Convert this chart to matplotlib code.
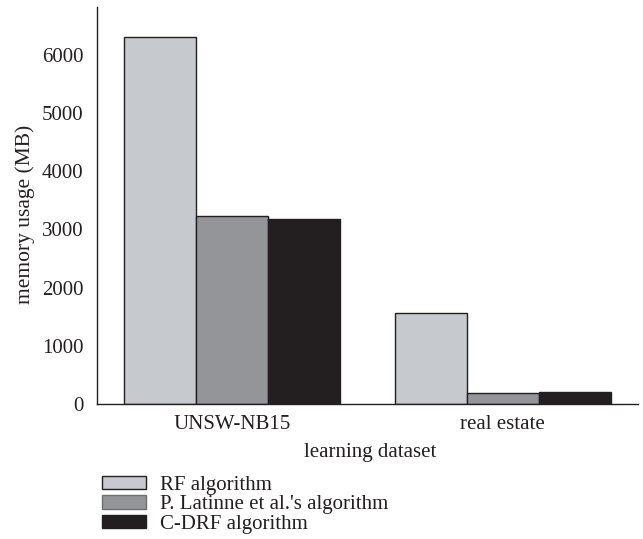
import matplotlib
matplotlib.use("Agg")
import matplotlib.pyplot as plt
import numpy as np
from matplotlib.patches import Patch

categories = ["UNSW-NB15", "real estate"]
series_names = ["RF algorithm", "P. Latinne et al.'s algorithm", "C-DRF algorithm"]
rf_values = [6310, 1570]
latinne_values = [3225, 195]
cdrf_values = [3175, 210]
y_ticks = [0, 1000, 2000, 3000, 4000, 5000, 6000]

colors = ["#c6c9cd", "#939598", "#231f20"]
edge = "#231f20"
txt = "#231f20"

plt.rcParams['font.family'] = ['Liberation Serif', 'DejaVu Serif']

fig = plt.figure(figsize=(6.43, 5.39), dpi=100)
ax = fig.add_axes([0.151, 0.2505, 0.841, 0.7365])

x = np.arange(len(categories))
w = 0.266
for i, vals in enumerate([rf_values, latinne_values, cdrf_values]):
    ax.bar(x + (i - 1) * w, vals, width=w, color=colors[i], edgecolor=edge, linewidth=1.0)

ax.set_xlim(-0.5, 1.5)
ax.set_ylim(0, 6820)
ax.set_yticks(y_ticks)
ax.set_xticks(x)
ax.set_xticklabels(categories)
ax.tick_params(axis='both', length=0, labelsize=15, colors=txt)
ax.tick_params(axis='y', pad=10)
ax.tick_params(axis='x', pad=8)
for s in ["top", "right"]:
    ax.spines[s].set_visible(False)
for s in ["left", "bottom"]:
    ax.spines[s].set_color(edge)
    ax.spines[s].set_linewidth(1.0)

ax.set_xlabel("learning dataset", fontsize=15, color=txt)
ax.xaxis.set_label_coords(0.505, -0.121)
ax.xaxis.label.set_va('center')
ax.set_ylabel("memory usage (MB)", fontsize=15.5, color=txt)
ax.yaxis.set_label_coords(-0.133, 0.478)
ax.yaxis.label.set_va('center')

handles = [Patch(facecolor=colors[i], edgecolor=edge if i != 1 else "#6d6e71", linewidth=1.0) for i in range(3)]
leg = fig.legend(handles, series_names, loc="upper left", bbox_to_anchor=(0.159, 0.117),
                 frameon=False, fontsize=15, handlelength=2.1, handleheight=0.6,
                 labelspacing=0.02, handletextpad=0.67, borderpad=0, borderaxespad=0)
for t in leg.get_texts():
    t.set_color(txt)

fig.savefig("out.png", dpi=100)
